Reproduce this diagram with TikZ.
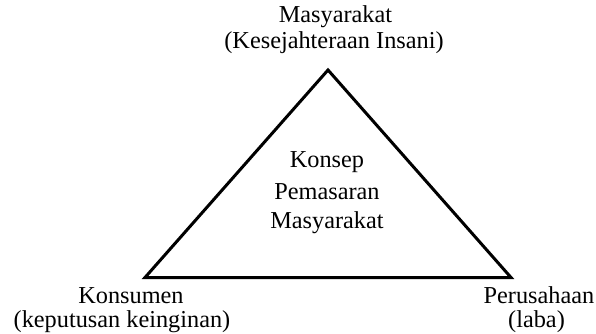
\documentclass[tikz,border=0pt]{standalone}
\usepackage{fontspec}
\setmainfont{Liberation Serif}
\tikzset{label text/.style = {align=center, inner sep=0pt, font=\fontsize{24.3}{26}\selectfont}}
\tikzset{side/.style = {line width=3pt, line join=miter}}
\begin{document}
\begin{tikzpicture}[x=1pt,y=-1pt]
                \useasboundingbox (0,0) rectangle (596,334);
                \coordinate (top) at (328,70);
                \coordinate (left) at (145,277.5);
                \coordinate (right) at (511,277.5);

                \node[label text] (society) at (334,30) {\hspace*{3pt}Masyarakat\\(Kesejahteraan Insani)};
                \node[label text] (concept1) at (327,162) {Konsep};
                \node[label text] (concept2) at (327,192) {Pemasaran};
                \node[label text] (concept3) at (327,223) {Masyarakat};
                \node[label text] (consumer) at (122,310) {\hspace*{18pt}Konsumen\\[-2pt](keputusan keinginan)};
                \node[label text] (company) at (539,310) {Perusahaan\\[-2pt]\hspace*{-5pt}(laba)};

                \draw[side] (top) -- (left) -- (right) -- cycle;
            \end{tikzpicture}
\end{document}
